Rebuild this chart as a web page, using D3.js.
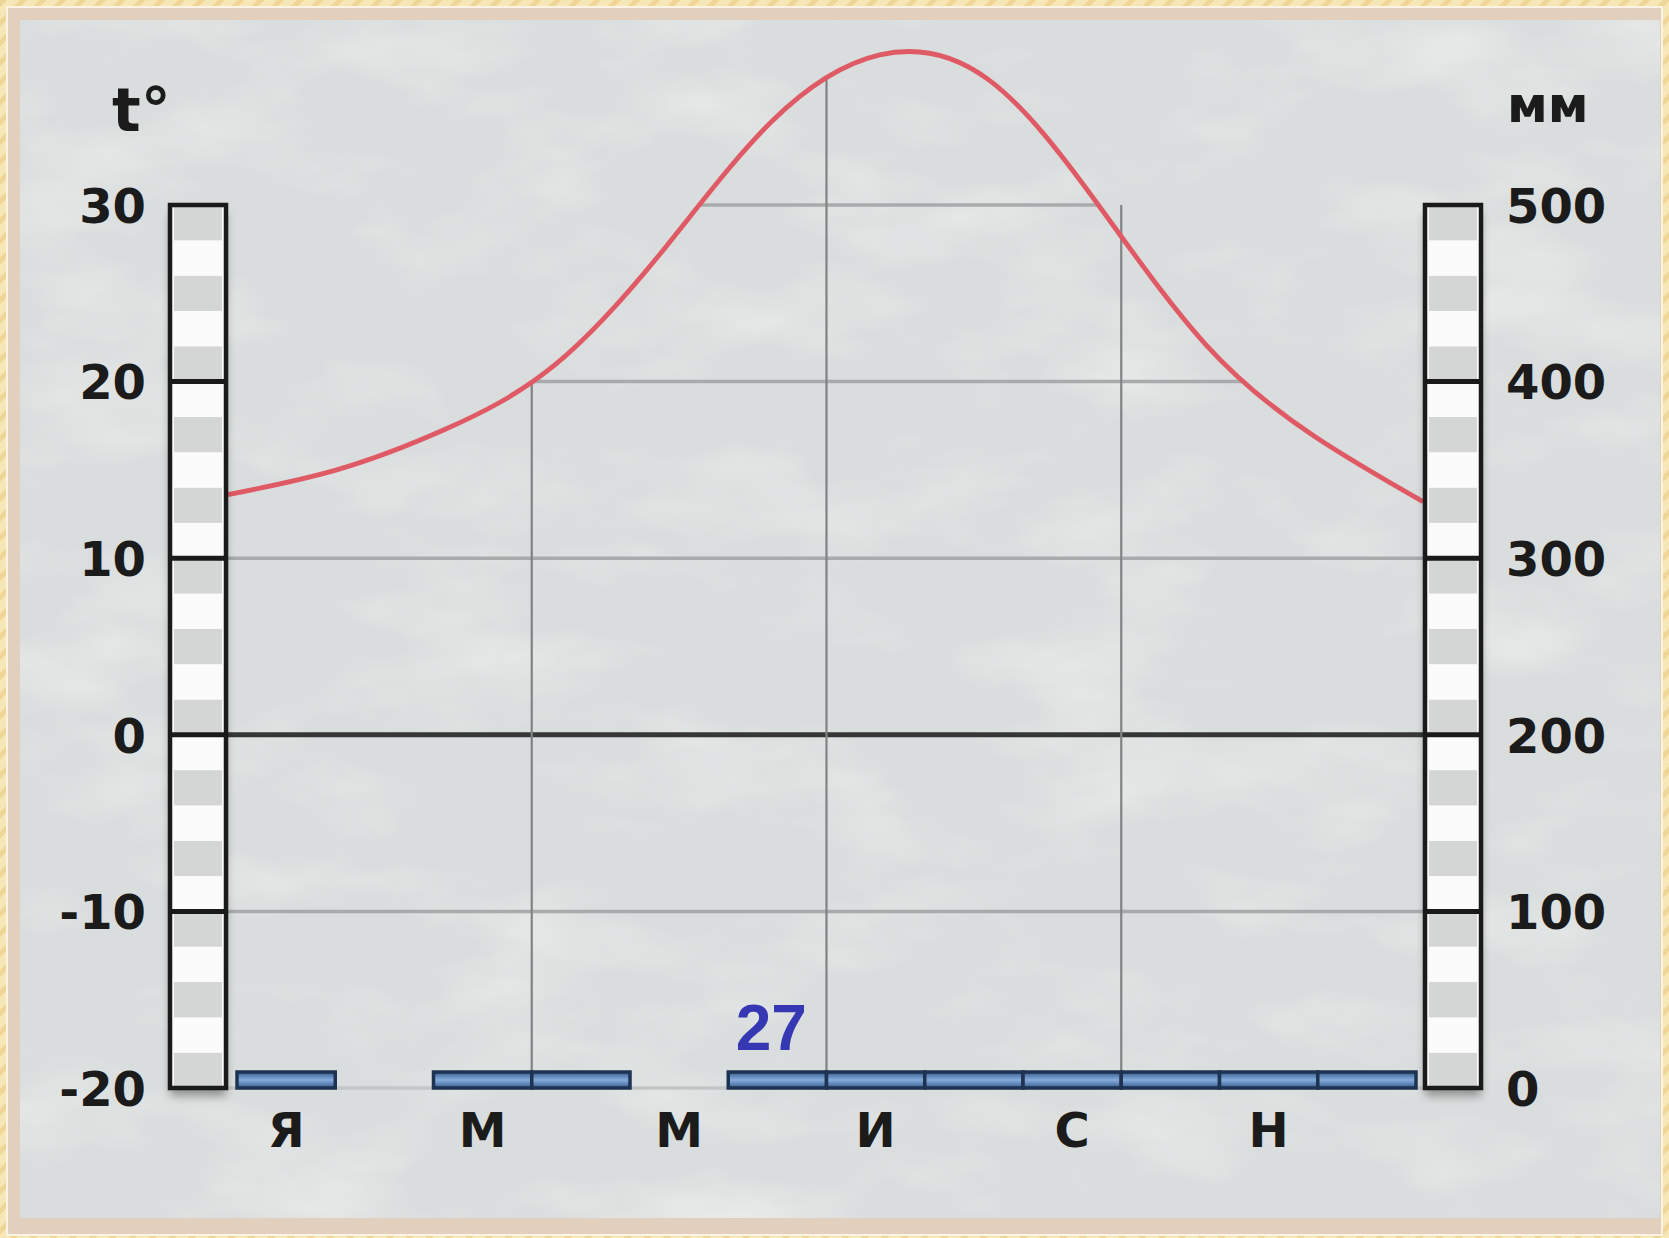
<!DOCTYPE html>
<html>
<head>
<meta charset="utf-8">
<script src="https://cdn.jsdelivr.net/npm/d3@7"></script>
<style>
	body { margin: 0; background: #f6e3ad; }
	svg { display: block; }
	text { font-family: "DejaVu Sans", sans-serif; font-weight: bold; fill: #1b1b1b; }
</style>
</head>
<body>
<svg id="chart" width="1669" height="1238"></svg>
<script>
const months = ["Jan", "Feb", "Mar", "Apr", "May", "Jun", "Jul", "Aug", "Sep", "Oct", "Nov", "Dec"];
const monthLabels = ["Я", "", "М", "", "М", "", "И", "", "С", "", "Н", ""];
const temperature = [13.6, 15.0, 17.3, 20.9, 27.4, 34.7, 38.5, 37.1, 30.1, 22.1, 16.9, 13.2];
const precipitation = [4, 0, 3, 2, 0, 2, 3, 3, 2, 2, 3, 3];
const tempTicks = [-20, -10, 0, 10, 20, 30];
const precipTicks = [0, 100, 200, 300, 400, 500];
const gridMonths = ["Apr", "Jul", "Oct"];

const w = 1669;
const h = 1238;
const plotTop = 205;
const plotBottom = 1088;
const barW = 56;
const leftBarX = 170;
const rightBarX = 1425;

const svg = d3.select('#chart');
const defs = svg.append('defs');

// --- scales
const yT = d3.scaleLinear().domain([-20, 30]).range([plotBottom, plotTop]);
const yP = d3.scaleLinear().domain([0, 500]).range([plotBottom, plotTop]);
const xBand = d3.scaleBand().domain(months).range([237, 1416]).padding(0);
const xPoint = d3.scalePoint().domain(months).range([leftBarX + barW + 2, rightBarX - 2]);

const tempData = months.map((m, i) => ({ m, t: temperature[i] }));

// --- defs: stripes, paper, shadow, bar gradient
const stripes = defs.append('pattern')
	.attr('id', 'stripes')
	.attr('width', 14).attr('height', 14)
	.attr('patternUnits', 'userSpaceOnUse')
	.attr('patternTransform', 'rotate(45)');
stripes.append('rect').attr('width', 14).attr('height', 14).attr('fill', '#f8e7b6');
stripes.append('rect').attr('width', 5).attr('height', 14).attr('fill', '#efd697');

const paper = defs.append('filter').attr('id', 'paper').attr('x', 0).attr('y', 0).attr('width', 1).attr('height', 1);
paper.append('feTurbulence')
	.attr('type', 'fractalNoise')
	.attr('baseFrequency', '0.005 0.011')
	.attr('numOctaves', 4)
	.attr('seed', 7);
paper.append('feColorMatrix')
	.attr('type', 'matrix')
	.attr('values', '0 0 0 0 1  0 0 0 0 1  0 0 0 0 1  1.8 0 0 0 -0.85');

const shadow = defs.append('filter').attr('id', 'shadow').attr('x', -0.5).attr('y', -0.1).attr('width', 2).attr('height', 1.2);
shadow.append('feDropShadow')
	.attr('dx', 0).attr('dy', 8)
	.attr('stdDeviation', 5)
	.attr('flood-color', '#000')
	.attr('flood-opacity', 0.35);

const barGrad = defs.append('linearGradient').attr('id', 'barGrad').attr('x1', 0).attr('y1', 0).attr('x2', 0).attr('y2', 1);
barGrad.append('stop').attr('offset', '0%').attr('stop-color', '#365a88');
barGrad.append('stop').attr('offset', '50%').attr('stop-color', '#86acdf');
barGrad.append('stop').attr('offset', '100%').attr('stop-color', '#365a88');

// --- background and frame
svg.append('rect').attr('width', w).attr('height', h).attr('fill', 'url(#stripes)');
svg.append('rect')
	.attr('x', 7).attr('y', 7)
	.attr('width', w - 14).attr('height', h - 10)
	.attr('fill', '#e2cfbd')
	.attr('stroke', '#fbf3e3')
	.attr('stroke-width', 2);
svg.append('rect')
	.attr('x', 20).attr('y', 20)
	.attr('width', 1640).attr('height', 1198)
	.attr('fill', '#dadddd');
svg.append('rect')
	.attr('x', 20).attr('y', 20)
	.attr('width', 1640).attr('height', 1198)
	.attr('filter', 'url(#paper)')
	.attr('opacity', 0.5);

// --- temperature curve + clip area under it
const line = d3.line()
	.x(d => xPoint(d.m))
	.y(d => yT(d.t))
	.curve(d3.curveNatural);

const area = d3.area()
	.x(d => xPoint(d.m))
	.y0(plotBottom + 6)
	.y1(d => yT(d.t))
	.curve(d3.curveNatural);

defs.append('clipPath')
	.attr('id', 'underCurve')
	.append('path')
	.attr('d', area(tempData));

// horizontal grid, only under the curve
svg.append('g')
	.attr('clip-path', 'url(#underCurve)')
	.selectAll('line')
	.data(tempTicks)
	.enter()
	.append('line')
	.attr('x1', leftBarX + barW)
	.attr('x2', rightBarX)
	.attr('y1', d => yT(d))
	.attr('y2', d => yT(d))
	.attr('stroke', d => d === 0 ? '#363636' : (d === -20 ? '#c3c6c6' : '#a7abab'))
	.attr('stroke-width', d => d === 0 ? 5 : 3.5);

const curvePath = svg.append('path')
	.datum(tempData)
	.attr('fill', 'none')
	.attr('stroke', '#df5a65')
	.attr('stroke-width', 4.8)
	.attr('d', line);

// y of the curve at a given x
function curveYAt(node, x) {
	let lo = 0, hi = node.getTotalLength();
	for (let i = 0; i < 40; i++) {
		const mid = (lo + hi) / 2;
		if (node.getPointAtLength(mid).x < x) lo = mid;
		else hi = mid;
	}
	return node.getPointAtLength(lo).y;
}

// vertical grid, up to the next grid level above the curve
svg.insert('g', () => curvePath.node())
	.selectAll('line')
	.data(gridMonths)
	.enter()
	.append('line')
	.attr('x1', d => xBand(d))
	.attr('x2', d => xBand(d))
	.attr('y1', d => {
		const cy = curveYAt(curvePath.node(), xBand(d));
		const level = Math.ceil(yT.invert(cy) / 10) * 10;
		return level <= 30 ? yT(level) : cy;
	})
	.attr('y2', plotBottom)
	.attr('stroke', '#7f8383')
	.attr('stroke-width', 2.2);

// --- precipitation bars
const bars = svg.append('g');
bars.selectAll('rect')
	.data(months.filter((m, i) => precipitation[i] > 0))
	.enter()
	.append('rect')
	.attr('x', d => xBand(d))
	.attr('width', xBand.bandwidth())
	.attr('y', d => yP(0) - Math.max(yP(0) - yP(precipitation[months.indexOf(d)]), 16))
	.attr('height', d => Math.max(yP(0) - yP(precipitation[months.indexOf(d)]), 16))
	.attr('fill', 'url(#barGrad)')
	.attr('stroke', '#1d3352')
	.attr('stroke-width', 3.5);

svg.append('text')
	.attr('x', xBand('Jun') + 43)
	.attr('y', yP(0) - 38)
	.attr('text-anchor', 'middle')
	.style('font-family', '"Liberation Sans", sans-serif')
	.style('font-size', '64px')
	.style('fill', '#3537b3')
	.text(d3.sum(precipitation));

// --- scale bars (striped columns)
function scaleBar(x) {
	const g = svg.append('g');
	g.append('rect')
		.attr('x', x).attr('y', plotTop)
		.attr('width', barW).attr('height', plotBottom - plotTop)
		.attr('fill', '#fbfbfb')
		.attr('filter', 'url(#shadow)');
	g.selectAll('.seg')
		.data(d3.range(-20, 30, 2))
		.enter()
		.append('rect')
		.attr('class', 'seg')
		.attr('x', x + 4).attr('width', barW - 8)
		.attr('y', d => yT(d + 2))
		.attr('height', d => yT(d) - yT(d + 2))
		.attr('fill', d => ((30 - d - 2) / 2) % 2 === 0 ? '#d4d5d5' : '#fbfbfb');
	g.selectAll('.tick-line')
		.data(tempTicks.slice(1, -1))
		.enter()
		.append('line')
		.attr('x1', x).attr('x2', x + barW)
		.attr('y1', d => yT(d)).attr('y2', d => yT(d))
		.attr('stroke', '#1a1a1a')
		.attr('stroke-width', 5);
	g.append('rect')
		.attr('x', x).attr('y', plotTop)
		.attr('width', barW).attr('height', plotBottom - plotTop)
		.attr('fill', 'none')
		.attr('stroke', '#1a1a1a')
		.attr('stroke-width', 4.5);
}
scaleBar(leftBarX);
scaleBar(rightBarX);

// --- axes (labels only)
const yAxisLeft = d3.axisLeft(yT).tickValues(tempTicks).tickSize(0).tickPadding(24).tickFormat(d => d);
const yAxisRight = d3.axisRight(yP).tickValues(precipTicks).tickSize(0).tickPadding(25).tickFormat(d => d);

svg.append('g')
	.attr('transform', 'translate(' + leftBarX + ', 0)')
	.call(yAxisLeft)
	.call(g => g.select('.domain').remove());

svg.append('g')
	.attr('transform', 'translate(' + (rightBarX + barW) + ', 0)')
	.call(yAxisRight)
	.call(g => g.select('.domain').remove());

svg.selectAll('.tick text')
	.attr('font-family', null)
	.style('font-size', '48px')
	.style('fill', '#1b1b1b')
	.attr('dy', '0.36em');

// month labels
svg.append('g')
	.selectAll('text')
	.data(months)
	.enter()
	.append('text')
	.attr('x', d => xBand(d) + xBand.bandwidth() / 2)
	.attr('y', 1147)
	.attr('text-anchor', 'middle')
	.style('font-size', '48px')
	.text((d, i) => monthLabels[i]);

svg.append('text')
	.attr('x', 112)
	.attr('y', 131)
	.style('font-size', '60px')
	.text('t°');

svg.append('text')
	.attr('x', 1507)
	.attr('y', 122)
	.style('font-size', '50px')
	.text('мм');
</script>
</body>
</html>
